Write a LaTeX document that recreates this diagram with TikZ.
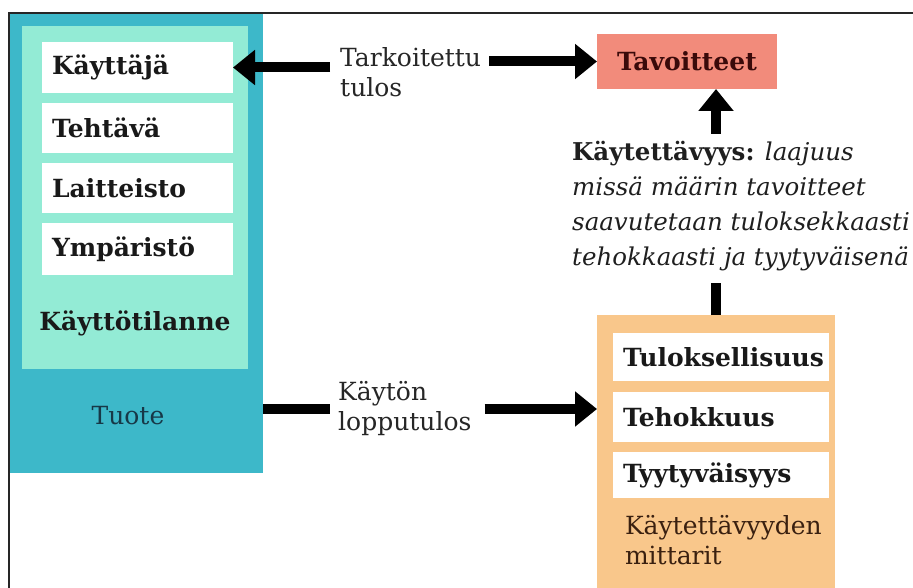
\documentclass[tikz,border=0pt]{standalone}
\usepackage{fontspec}
\setmainfont{DejaVu Serif}
\usetikzlibrary{arrows.meta}
\definecolor{tealout}{HTML}{3DB8C9}
\definecolor{mint}{HTML}{93EBD5}
\definecolor{salmon}{HTML}{F28B7B}
\definecolor{sand}{HTML}{F9C78B}
\definecolor{tuotetxt}{HTML}{173847}
\definecolor{browntxt}{HTML}{3A2010}
\definecolor{maroontxt}{HTML}{3A0A0A}
\tikzset{
  panel/.style={anchor=north west, inner sep=0pt, outer sep=0pt},
  item/.style={panel, fill=white, font=\bfseries\fontsize{25}{28}\selectfont,
    text=black!90, align=left, text width=#1, inner xsep=10pt},
  lbl/.style={font=\fontsize{25}{30}\selectfont, align=left, inner sep=0pt, text=black!85},
  bigarrow/.style={line width=10pt, -{Triangle[length=22pt,width=34pt]}},
  bar/.style={line width=10pt},
}
\begin{document}
\begin{tikzpicture}[x=1pt,y=-1pt]
\useasboundingbox (0,0) rectangle (913,588);
\fill[white] (0,0) rectangle (913,588);

% product column
\node[panel, fill=tealout, minimum width=254pt, minimum height=460pt] (tuote) at (9,13) {};
\node[panel, fill=mint, minimum width=226pt, minimum height=343pt] (tilanne) at (22,26) {};
\node[item=171pt, minimum height=51pt] (kay) at (42,42) {Käyttäjä};
\node[item=171pt, minimum height=50pt] (teh) at (42,103) {Tehtävä};
\node[item=171pt, minimum height=50pt] (lai) at (42,163) {Laitteisto};
\node[item=171pt, minimum height=52pt] (ymp) at (42,223) {Ympäristö};
\node[font=\bfseries\fontsize{25}{28}\selectfont, text=black!90] (tilannetxt) at (135,323) {Käyttötilanne};
\node[font=\fontsize{25}{28}\selectfont, text=tuotetxt] (tuotetxt) at (128,416) {Tuote};

% goals
\node[panel, fill=salmon, minimum width=180pt, minimum height=55pt,
  font=\bfseries\fontsize{25}{28}\selectfont, text=maroontxt] (tav) at (597,34) {Tavoitteet};

% measures column
\node[panel, fill=sand, minimum width=238pt, minimum height=273pt] (mit) at (597,315) {};
\node[item=196pt, minimum height=48pt] (tul) at (613,333) {Tuloksellisuus};
\node[item=196pt, minimum height=50pt] (tehk) at (613,392) {Tehokkuus};
\node[item=196pt, minimum height=46pt] (tyy) at (613,452) {Tyytyväisyys};
\node[panel, font=\fontsize{25}{30}\selectfont, text=browntxt, align=left] (mittxt) at (625,515) {Käytettävyyden\\mittarit};

% outer frame (top and left edges)
\draw[line width=1.6pt, black!85] (9,588) -- (9,13) -- (913,13);

% labels
\node[lbl, anchor=west] (tarkoitettu) at (340,72) {Tarkoitettu\\tulos};
\node[lbl, anchor=west] (lopputulos) at (338,409) {Käytön\\lopputulos};
\node[anchor=north west, inner sep=0pt, align=left, text=black!88,
  font=\fontsize{24.5}{35}\selectfont] (kv) at (572,141)
  {\textbf{Käytettävyys:} \textit{laajuus}\\
   \textit{missä määrin tavoitteet}\\
   \textit{saavutetaan tuloksekkaasti}\\
   \textit{tehokkaasti ja tyytyväisenä}};

% connectors
\draw[bigarrow] ([xshift=-10pt]tarkoitettu.west |- kay.east) -- (kay.east);
\draw[bigarrow] ([xshift=8pt]tarkoitettu.east |- tav.west) -- (tav.west);
\draw[bar] (tuote.east |- lopputulos.west) -- ([xshift=-8pt]lopputulos.west);
\draw[bigarrow] ([xshift=13pt]lopputulos.east) -- (mit.west |- lopputulos.east);
\draw[bar] (mit.north) -- ([yshift=-12pt]mit.north |- kv.south);
\draw[bigarrow] ([yshift=7pt]mit.north |- kv.north) -- (mit.north |- tav.south);
\end{tikzpicture}
\end{document}
